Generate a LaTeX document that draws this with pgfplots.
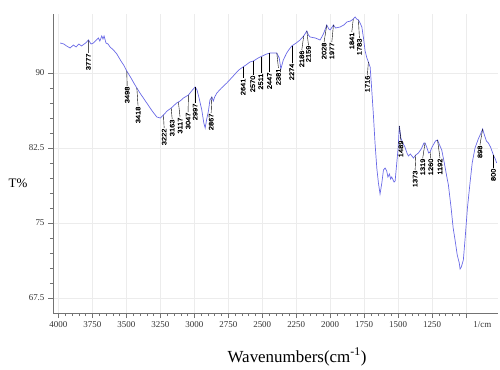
\documentclass[border=0pt]{standalone}
\usepackage{pgfplots}
\pgfplotsset{compat=1.18}
\usepackage{fontspec}
\setmainfont{Liberation Serif}
\newfontfamily\pkfont[FakeStretch=1.15,FakeBold=1.5]{Liberation Sans}
\definecolor{spec}{RGB}{105,105,230}
\newcommand{\pk}[5]{\draw[black, line width=0.4pt] (axis cs:#1,#2) -- (axis cs:#3,#4) node[rotate=90, anchor=east, inner sep=0.4pt, font=\pkfont\fontsize{6.5}{7}\selectfont] {#5};}
\begin{document}
\begin{tikzpicture}
\begin{axis}[
  scale only axis, width=445bp, height=299bp,
  x dir=reverse, xmin=765, xmax=4040, ymin=66, ymax=95.9,
  axis x line*=bottom, axis y line*=left,
  xtick={1000,1250,...,4000},
  xticklabels={{},1250,1500,1750,2000,2250,2500,2750,3000,3250,3500,3750,4000},
  minor x tick num=4,
  ytick={67.5,75,82.5,90}, yticklabels={67.5,75,82.5,90},
  minor y tick num=4,
  tick align=outside, major tick length=5bp, minor tick length=3bp,
  grid=major, major grid style={gray!15, line width=0.4pt},
  axis line style={black!55, line width=0.5pt},
  tick style={black!55, line width=0.4pt},
  tick label style={font=\fontsize{9}{10}\selectfont, color=black!80},
  /pgf/number format/assume math mode=true,
  clip=false,
]
\addplot[spec, line width=0.7pt] table {
3987 93.0
3960 92.9
3940 92.7
3914 92.5
3890 92.8
3870 92.6
3850 92.9
3830 92.7
3800 93.0
3779 93.3
3760 92.9
3742 93.0
3720 93.3
3706 93.5
3695 93.2
3681 93.7
3672 93.4
3664 93.7
3650 93.0
3635 92.9
3620 92.6
3595 92.3
3570 91.9
3540 91.2
3520 90.8
3497 90.2
3470 89.6
3445 89.0
3423 88.5
3400 88.0
3375 87.5
3350 87.0
3310 86.2
3276 85.6
3250 85.5
3227 85.8
3200 86.2
3170 86.5
3154 86.7
3130 87.0
3104 87.2
3080 87.5
3043 87.8
3020 88.2
2994 88.6
2980 88.3
2965 87.5
2945 86.3
2930 85.0
2920 84.5
2910 85.3
2896 86.2
2885 87.3
2871 87.6
2860 87.2
2850 87.6
2834 88.0
2800 88.5
2761 89.0
2720 89.6
2680 90.2
2663 90.4
2620 90.8
2590 91.1
2565 91.2
2530 91.5
2500 91.7
2467 91.9
2440 92.0
2410 92.0
2393 92.0
2375 91.5
2363 90.4
2345 91.3
2320 92.0
2300 92.4
2283 92.7
2250 93.0
2222 93.3
2195 93.7
2172 94.2
2160 93.8
2148 93.6
2110 93.5
2074 93.3
2050 93.9
2025 94.8
2010 94.4
2001 94.3
1985 94.6
1976 94.8
1960 94.5
1927 94.6
1900 94.8
1878 95.1
1850 95.2
1830 95.4
1817 95.6
1805 95.4
1792 95.3
1780 95.0
1767 94.6
1755 93.5
1743 92.2
1730 91.5
1719 91.1
1706 90.6
1695 88.5
1682 85.8
1670 83.0
1657 80.5
1645 79.0
1633 77.9
1620 79.0
1608 80.3
1596 80.5
1584 80.2
1575 79.6
1564 79.9
1555 79.4
1547 79.6
1530 79.1
1522 79.2
1510 81.0
1500 82.5
1491 84.7
1480 83.5
1466 83.0
1450 82.6
1435 82.0
1424 81.7
1410 81.9
1387 81.5
1370 81.8
1351 82.0
1330 82.4
1310 83.0
1302 83.0
1290 82.6
1275 82.0
1265 82.1
1250 82.6
1225 83.2
1210 83.3
1195 82.8
1179 82.3
1160 81.0
1140 79.5
1130 78.8
1110 76.5
1095 74.5
1081 73.3
1065 71.8
1050 71.0
1044 70.4
1035 70.6
1020 71.3
1005 73.8
990 76.5
971 79.0
955 81.0
934 82.5
910 83.4
890 84.0
878 84.4
865 83.8
850 83.2
836 83.0
820 82.6
799 81.8
785 81.4
775 81.0
};
\pk{3779}{93.3}{3780}{92.0}{3777}
\pk{3497}{90.2}{3494}{88.7}{3498}
\pk{3423}{88.5}{3414}{86.7}{3418}
\pk{3227}{85.8}{3222}{84.5}{3222}
\pk{3170}{86.5}{3163}{85.4}{3163}
\pk{3117}{87.1}{3105}{85.6}{3117}
\pk{3043}{87.8}{3046}{86.1}{3047}
\pk{2994}{88.6}{2994}{87.0}{2997}
\pk{2871}{87.6}{2876}{86.0}{2867}
\pk{2641}{90.6}{2641}{89.5}{2641}
\pk{2570}{91.2}{2570}{89.8}{2570}
\pk{2511}{91.6}{2511}{90.0}{2511}
\pk{2447}{92.0}{2447}{90.1}{2447}
\pk{2393}{92.0}{2381}{90.5}{2381}
\pk{2283}{92.7}{2283}{91.0}{2274}
\pk{2195}{93.7}{2209}{92.3}{2186}
\pk{2172}{94.2}{2160}{92.8}{2159}
\pk{2025}{94.8}{2045}{93.1}{2028}
\pk{1976}{94.8}{1988}{93.1}{1977}
\pk{1830}{95.4}{1841}{94.1}{1841}
\pk{1792}{95.3}{1785}{93.5}{1783}
\pk{1719}{91.1}{1726}{89.8}{1716}
\pk{1491}{84.7}{1480}{83.3}{1489}
\pk{1370}{81.8}{1375}{80.3}{1373}
\pk{1302}{83.0}{1319}{81.5}{1319}
\pk{1265}{82.1}{1260}{81.5}{1260}
\pk{1210}{83.3}{1192}{81.5}{1192}
\pk{878}{84.4}{898}{82.8}{898}
\pk{799}{81.8}{799}{80.5}{800}
\node[anchor=north, font=\fontsize{9}{10}\selectfont, color=black!80, yshift=-5bp] at (axis cs:880,66) {1/cm};
\end{axis}
\node[font=\fontsize{17}{18}\selectfont] at ([xshift=244bp,yshift=-44bp]current axis.south west) {Wavenumbers(cm\textsuperscript{-1})};
\node[font=\fontsize{13}{14}\selectfont] at ([xshift=-35bp,yshift=130bp]current axis.south west) {T\%};
\pgfresetboundingbox
\path ([xshift=-53bp,yshift=-57bp]current axis.south west) rectangle ([xshift=2bp,yshift=14bp]current axis.north east);
\end{tikzpicture}
\end{document}
